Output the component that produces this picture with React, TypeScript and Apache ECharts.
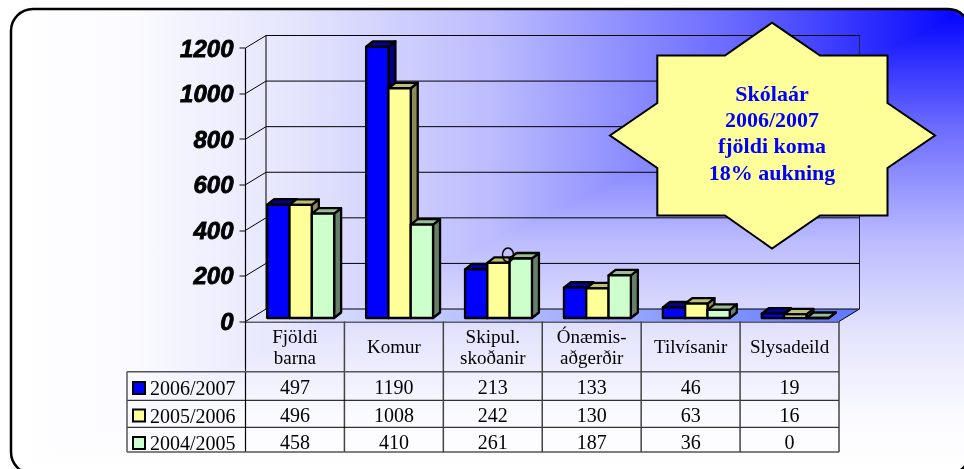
import React, { useEffect, useRef } from "react";
import * as echarts from "echarts";

const categories = ["Fjöldi\nbarna", "Komur", "Skipul.\nskoðanir", "Ónæmis-\naðgerðir", "Tilvísanir", "Slysadeild"];
const s2006 = [497, 1190, 213, 133, 46, 19];
const s2005 = [496, 1008, 242, 130, 63, 16];
const s2004 = [458, 410, 261, 187, 36, 0];
const seriesNames = ["2006/2007", "2005/2006", "2004/2005"];
const yTicks = [0, 200, 400, 600, 800, 1000, 1200];
const starLines = ["Skólaár", "2006/2007", "fjöldi koma", "18% aukning"];
const palette = [
  { front: "#0000ff", top: "#000099", side: "#000080" },
  { front: "#ffff99", top: "#bfbf73", side: "#8c8a55" },
  { front: "#ccffcc", top: "#99bf99", side: "#66806a" },
];

const SERIF = '"Liberation Serif", "Times New Roman", serif';
const SANS = '"Liberation Sans", Arial, sans-serif';
const L = 245.5, R = 839, T = 48, B = 321.5;
const rowLines = [371.7, 400.3, 427.3, 452];
const rowCenters = [386.5, 414.5, 441.5];
const DX = 20.5, DY = 12.5;

const blueStops = [
  { offset: 0, color: "#2a2aff" },
  { offset: 0.017, color: "#0808ff" },
  { offset: 0.25, color: "#6a6aff" },
  { offset: 0.5, color: "#bcbcff" },
  { offset: 0.7, color: "#e4e4fd" },
  { offset: 0.88, color: "#fbfbff" },
  { offset: 1, color: "#ffffff" },
];

echarts.graphic.registerShape(
  "bgUpper",
  echarts.graphic.extendPath("M11 474 L11 31 A22 22 0 0 1 33 9 L948 9 A22 22 0 0 1 961.1 13.3 Z", {})
);

function barItem(seriesIdx: number, values: number[]) {
  return (params: any, api: any) => {
    const i = api.value(0);
    const v = api.value(1);
    const band = api.size([1, 0])[0];
    const w = band * 0.2255;
    const center = api.coord([i, v]);
    const base = api.coord([i, 0]);
    const x = center[0] + 5.7 + (seriesIdx - 1) * w - w / 2;
    const yTop = center[1] - 3.5;
    const yBot = base[1] - 3.5;
    const dx = 7, dy = 5.5;
    const c = palette[seriesIdx];
    const stroke = { stroke: "#000", lineWidth: 2.3, lineJoin: "round" };
    return {
      type: "group",
      children: [
        {
          type: "polygon",
          shape: { points: [[x + w, yTop], [x + w + dx, yTop - dy], [x + w + dx, yBot - dy], [x + w, yBot]] },
          style: { fill: c.side, ...stroke },
        },
        {
          type: "polygon",
          shape: { points: [[x, yTop], [x + dx, yTop - dy], [x + w + dx, yTop - dy], [x + w, yTop]] },
          style: { fill: c.top, ...stroke },
        },
        { type: "rect", shape: { x, y: yTop, width: w, height: yBot - yTop }, style: { fill: c.front, ...stroke } },
      ],
    };
  };
}

function wallItem(params: any, api: any) {
  const v = api.value(1);
  const y = api.coord([0, v])[1];
  const cs = params.coordSys;
  const left = cs.x, right = cs.x + cs.width;
  const children: any[] = [];
  if (v === 0) {
    children.push({
      type: "polygon",
      shape: { points: [[left, y], [left + DX, y - DY], [right + DX, y - DY], [right, y]] },
      style: {
        fill: { type: "linear", x: 0, y: 0, x2: 1, y2: 0, colorStops: [
          { offset: 0, color: "#e6e8ff" },
          { offset: 0.5, color: "#a9b4ff" },
          { offset: 1, color: "#5f78ff" },
        ] },
      },
    });
    const yMax = api.coord([0, 1200])[1];
    children.push({ type: "line", shape: { x1: left + DX, y1: yMax - DY, x2: left + DX, y2: y - DY }, style: { stroke: "#000", lineWidth: 1 } });
    children.push({ type: "line", shape: { x1: right + DX, y1: yMax - DY, x2: right + DX, y2: y - DY }, style: { stroke: "#222244", lineWidth: 1 } });
    children.push({ type: "line", shape: { x1: right, y1: y, x2: right + DX, y2: y - DY }, style: { stroke: "#000", lineWidth: 1 } });
  }
  children.push({
    type: "polyline",
    shape: { points: [[left, y], [left + DX, y - DY], [right + DX, y - DY]] },
    style: { fill: "none", stroke: "#000", lineWidth: 1 },
  });
  return { type: "group", children };
}

function tableItem(params: any, api: any) {
  const i = api.value(0);
  const cx = api.coord([i, 0])[0];
  const band = api.size([1, 0])[0];
  const children: any[] = [];
  const vals = [s2006[i], s2005[i], s2004[i]];
  vals.forEach((v, r) => {
    children.push({
      type: "text",
      style: { text: String(v), x: cx, y: rowCenters[r], align: "center", verticalAlign: "middle", font: `20px ${SERIF}`, fill: "#000" },
    });
  });
  const x = cx + band / 2;
  children.push({ type: "line", shape: { x1: x, y1: B, x2: x, y2: rowLines[3] }, style: { stroke: "#444", lineWidth: 1.5 } });
  if (i === 0) {
    const xl = cx - band / 2;
    children.push({ type: "line", shape: { x1: xl, y1: T, x2: xl, y2: rowLines[3] }, style: { stroke: "#000", lineWidth: 1.2 } });
    rowLines.forEach((y, k) => {
      const outer = k === 0 || k === 3;
      children.push({
        type: "line",
        shape: { x1: 127, y1: y, x2: R, y2: y },
        style: { stroke: outer ? "#555" : "#000", lineWidth: outer ? 1.5 : 1 },
      });
    });
    children.push({ type: "line", shape: { x1: 127, y1: rowLines[0], x2: 127, y2: rowLines[3] }, style: { stroke: "#555", lineWidth: 1.5 } });
  }
  return { type: "group", children };
}

export default function App() {
  const ref = useRef<HTMLDivElement>(null);
  useEffect(() => {
    const chart = echarts.init(ref.current!, undefined, { renderer: "svg" });
    const bgFill = (x: number, y: number, x2: number, y2: number) => ({
      type: "linear", x, y, x2, y2, global: true, colorStops: blueStops,
    });
    const starPts = [
      [772, 22.7], [820, 55.5], [887.5, 55.5], [887.5, 103], [935, 135.5], [887.5, 168], [887.5, 215.5],
      [820, 215.5], [772, 248.5], [725, 215.5], [657.3, 215.5], [657.3, 168], [610, 135.5], [657.3, 103],
      [657.3, 55.5], [725, 55.5],
    ];
    const series: any[] = [
      {
        type: "custom",
        name: "walls",
        silent: true,
        renderItem: wallItem,
        data: yTicks.map((v) => [0, v]),
        encode: { x: 0, y: 1 },
        z: 1,
      },
      ...[s2006, s2005, s2004].map((vals, idx) => ({
        type: "custom",
        name: seriesNames[idx],
        renderItem: barItem(idx, vals),
        data: vals.map((v, i) => [i, v]),
        encode: { x: 0, y: 1 },
        itemStyle: { color: palette[idx].front, borderColor: "#000", borderWidth: 1.5 },
        z: 3 + idx,
      })),
      {
        type: "custom",
        name: "table",
        silent: true,
        renderItem: tableItem,
        data: categories.map((_, i) => [i, 0]),
        encode: { x: 0, y: 1 },
        z: 8,
      },
    ];
    chart.setOption({
      animation: false,
      grid: { left: L, right: 964 - R, top: T, bottom: 469 - B, containLabel: false },
      xAxis: {
        type: "category",
        data: categories,
        axisLine: { show: true, lineStyle: { color: "#333", width: 1.5 } },
        axisTick: { show: false },
        axisLabel: {
          interval: 0,
          margin: 25,
          verticalAlign: "middle",
          lineHeight: 21,
          fontFamily: SERIF,
          fontSize: 19,
          color: "#000",
        },
      },
      yAxis: {
        type: "value",
        min: 0,
        max: 1200,
        interval: 200,
        splitLine: { show: false },
        axisLine: { show: false },
        axisTick: { show: true, length: 6, lineStyle: { color: "#555", width: 1.5 } },
        axisLabel: {
          margin: 12,
          formatter: (v: number) => String(v),
          fontFamily: SANS,
          fontSize: 24,
          fontWeight: "bold",
          fontStyle: "italic",
          color: "#000",
          textBorderColor: "#000",
          textBorderWidth: 0.8,
        },
      },
      legend: {
        data: seriesNames.map((name) => ({ name, icon: "rect" })),
        orient: "vertical",
        left: 132,
        top: 378,
        itemWidth: 12,
        itemHeight: 12,
        itemGap: 7.5,
        textStyle: { fontFamily: SERIF, fontSize: 20, color: "#000", padding: [0, 0, 0, 0] },
        padding: 0,
        selectedMode: false,
      },
      series,
      graphic: [
        {
          type: "rect",
          z: -11,
          shape: { x: 11, y: 9, width: 959, height: 465, r: 22 },
          style: { fill: bgFill(0, 9, 0, 474) },
        },
        { type: "bgUpper", z: -10, style: { fill: bgFill(970, 0, 11, 0) } },
        {
          type: "rect",
          z: -9,
          shape: { x: 11, y: 9, width: 959, height: 465, r: 22 },
          style: { fill: "none", stroke: "#000", lineWidth: 2.5 },
        },
        {
          type: "ellipse",
          z: 20,
          shape: { cx: 508, cy: 255, rx: 5.5, ry: 7 },
          style: { fill: "none", stroke: "#000", lineWidth: 1.5 },
        },
        {
          type: "polygon",
          z: 30,
          shape: { points: starPts },
          style: { fill: "#ffff99", stroke: "#000", lineWidth: 2 },
        },
        ...starLines.map((text, i) => ({
          type: "text",
          z: 31,
          x: 772,
          y: 93.5 + i * 26.2,
          style: { text, align: "center", verticalAlign: "middle", font: `bold 22px ${SERIF}`, fill: "#0000ff" },
        })),
      ],
    });
    return () => chart.dispose();
  }, []);
  return <div ref={ref} style={{ position: "fixed", left: 0, top: 0, width: 964, height: 469 }} />;
}
